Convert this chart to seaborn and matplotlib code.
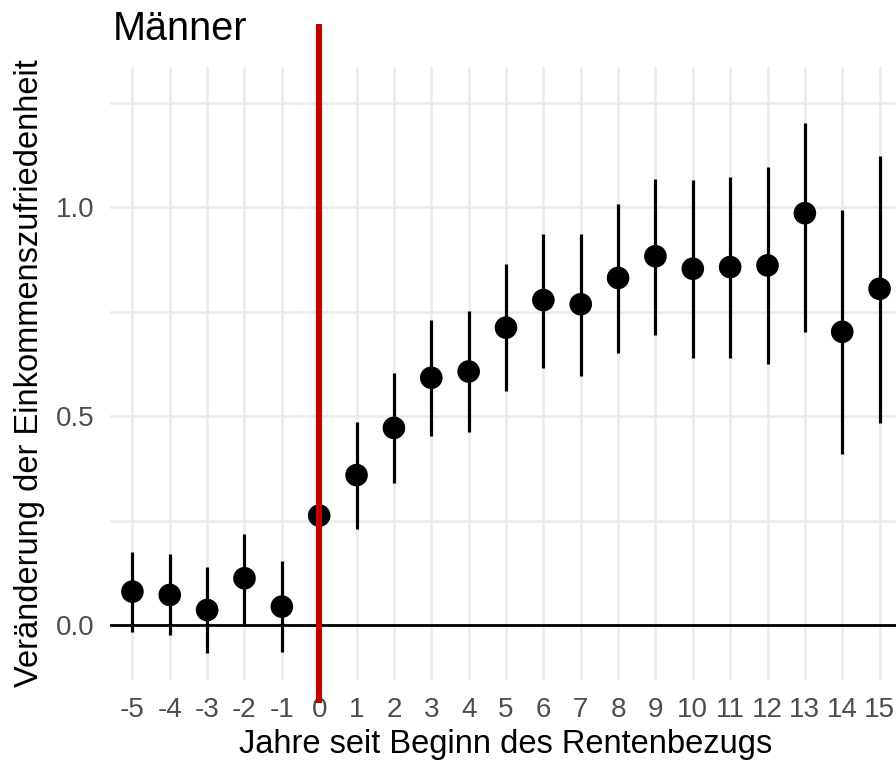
import matplotlib
matplotlib.use("Agg")
import matplotlib.pyplot as plt
import seaborn as sns
import pandas as pd
import numpy as np

years = list(range(-5, 16))
estimate = [0.080, 0.072, 0.036, 0.112, 0.044, 0.262, 0.359, 0.472, 0.592, 0.607,
            0.712, 0.778, 0.768, 0.831, 0.883, 0.853, 0.857, 0.861, 0.986, 0.702, 0.805]
ci_low = [-0.016, -0.024, -0.066, 0.002, -0.064, 0.262, 0.231, 0.340, 0.452, 0.462,
          0.560, 0.616, 0.597, 0.651, 0.695, 0.639, 0.639, 0.626, 0.702, 0.409, 0.484]
ci_high = [0.174, 0.169, 0.140, 0.219, 0.153, 0.262, 0.485, 0.604, 0.731, 0.752,
           0.865, 0.935, 0.935, 1.009, 1.069, 1.065, 1.072, 1.096, 1.201, 0.993, 1.124]
xtick_labels = [str(y) for y in years]
title = "Männer"
xlabel = "Jahre seit Beginn des Rentenbezugs"
ylabel = "Veränderung der Einkommenszufriedenheit"

df = pd.DataFrame({"year": years, "est": estimate, "lo": ci_low, "hi": ci_high})

sns.set_theme(style="white")
plt.rcParams["font.family"] = ["Liberation Sans", "DejaVu Sans"]

W, H = 896, 761
fig = plt.figure(figsize=(W / 100, H / 100), dpi=100)
left, right, top, bottom = 110, 902, 67, 680
ax = fig.add_axes([left / W, 1 - bottom / H, (right - left) / W, (bottom - top) / H])

ax.set_xlim(-5.6, 15.6)
ax.set_ylim(-0.1316, 1.336)

grid_c = "#EBEBEB"
for x in years:
    ax.axvline(x, color=grid_c, lw=1.9, zorder=0)
for y in [0.0, 0.25, 0.5, 0.75, 1.0, 1.25]:
    ax.axhline(y, color=grid_c, lw=1.9, zorder=0)

ax.axhline(0, color="black", lw=2.0, zorder=1)

ax.vlines(df["year"], df["lo"], df["hi"], color="black", lw=2.3, zorder=2)
sns.scatterplot(data=df, x="year", y="est", color="black", s=265, edgecolor="none",
                zorder=3, ax=ax, legend=False)

ax.plot([0, 0], [-0.187, 1.438], color="#C00000", lw=4.4, zorder=4,
        clip_on=False, solid_capstyle="butt")

for s in ax.spines.values():
    s.set_visible(False)
ax.grid(False)
ax.set_xticks(years)
ax.set_xticklabels(xtick_labels)
ax.set_yticks([0.0, 0.5, 1.0])
ax.set_yticklabels(["0.0", "0.5", "1.0"])
ax.tick_params(axis="both", length=0, labelsize=20, labelcolor="#4D4D4D")
ax.tick_params(axis="x", pad=12)
ax.tick_params(axis="y", pad=11)

ax.set_xlabel("")
ax.set_ylabel("")
fig.text((left + right) / 2 / W, 1 - 753 / H, xlabel, fontsize=23.5, color="black",
         ha="center", va="baseline")
fig.text(30 / W, 1 - 373 / H, ylabel, fontsize=23.5, color="black",
         ha="center", va="center", rotation=90)
fig.text(113 / W, 1 - 40 / H, title, fontsize=28.5, color="black",
         ha="left", va="baseline")

fig.savefig("out.png", dpi=100)
